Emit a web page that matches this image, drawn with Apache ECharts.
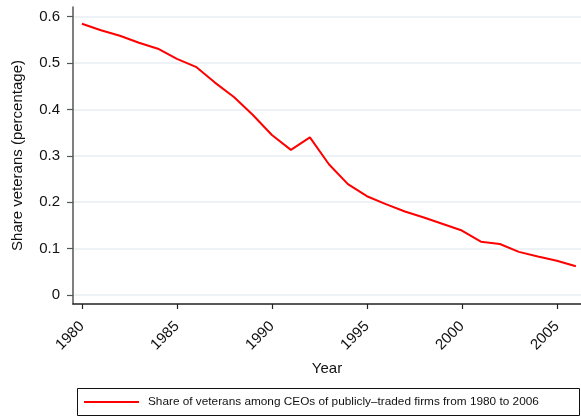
<!DOCTYPE html>
<html>
<head>
<meta charset="utf-8">
<script src="https://cdn.jsdelivr.net/npm/echarts@6/dist/echarts.min.js"></script>
<style>
html,body{margin:0;padding:0;background:#fff;}
#chart{width:581px;height:417px;}
</style>
</head>
<body>
<div id="chart"></div>
<script>
const years = [1980,1981,1982,1983,1984,1985,1986,1987,1988,1989,1990,1991,1992,1993,1994,1995,1996,1997,1998,1999,2000,2001,2002,2003,2004,2005,2006];
const shareVeterans = [0.585,0.571,0.559,0.544,0.531,0.509,0.492,0.458,0.427,0.388,0.345,0.313,0.340,0.282,0.239,0.213,0.196,0.180,0.167,0.153,0.139,0.115,0.110,0.093,0.083,0.074,0.062];
const xTicks = [1980,1985,1990,1995,2000,2005];
const yTicks = [0,0.1,0.2,0.3,0.4,0.5,0.6];
const seriesName = 'Share of veterans among CEOs of publicly\u2013traded firms from 1980 to 2006';
const xTitle = 'Year';
const yTitle = 'Share veterans (percentage)';

const font = 'Liberation Sans, Arial, Helvetica, sans-serif';
const chart = echarts.init(document.getElementById('chart'));
chart.setOption({
  animation:false,
  backgroundColor:'#fff',
  textStyle:{fontFamily:font},
  grid:{left:73,right:0,top:7,bottom:113,containLabel:false,outerBoundsMode:'none'},
  xAxis:{
    type:'value',min:1979.53,max:2006.27,
    name:xTitle,nameLocation:'middle',nameGap:57,
    nameTextStyle:{fontFamily:font,fontSize:15,color:'#111'},
    axisLine:{show:true,onZero:false,lineStyle:{color:'#222',width:1.5}},
    axisTick:{show:true,customValues:xTicks,length:5,lineStyle:{color:'#222',width:1.2}},
    axisLabel:{customValues:xTicks,rotate:45,margin:20,fontFamily:font,fontSize:15,color:'#111',formatter:v=>String(v)},
    splitLine:{show:false}
  },
  yAxis:{
    type:'value',min:-0.0194,max:0.621,
    name:yTitle,nameLocation:'middle',nameGap:48,
    nameTextStyle:{fontFamily:font,fontSize:15,color:'#111'},
    axisLine:{show:true,onZero:false,lineStyle:{color:'#555',width:1.5}},
    axisTick:{show:true,customValues:yTicks,length:6,lineStyle:{color:'#555',width:1.2}},
    axisLabel:{customValues:yTicks,margin:13,fontFamily:font,fontSize:15,color:'#111',formatter:v=>String(v)},
    splitLine:{show:true,customValues:yTicks,lineStyle:{color:'#e6eef2',width:1.5}}
  },
  legend:{
    show:true,left:84,top:396,padding:0,
    icon:'rect',itemWidth:55,itemHeight:2,itemGap:9,
    textStyle:{fontFamily:font,fontSize:11.8,color:'#111',padding:[0,0,0,4]},
    data:[{name:seriesName}]
  },
  graphic:[{type:'rect',shape:{x:77.5,y:388.5,width:502,height:27},style:{fill:'none',stroke:'#111',lineWidth:1}}],
  series:[{
    name:seriesName,type:'line',symbol:'none',showSymbol:false,
    lineStyle:{color:'#ff0000',width:2},itemStyle:{color:'#ff0000'},
    data:years.map((y,i)=>[y,shareVeterans[i]])
  }]
});
</script>
</body>
</html>
